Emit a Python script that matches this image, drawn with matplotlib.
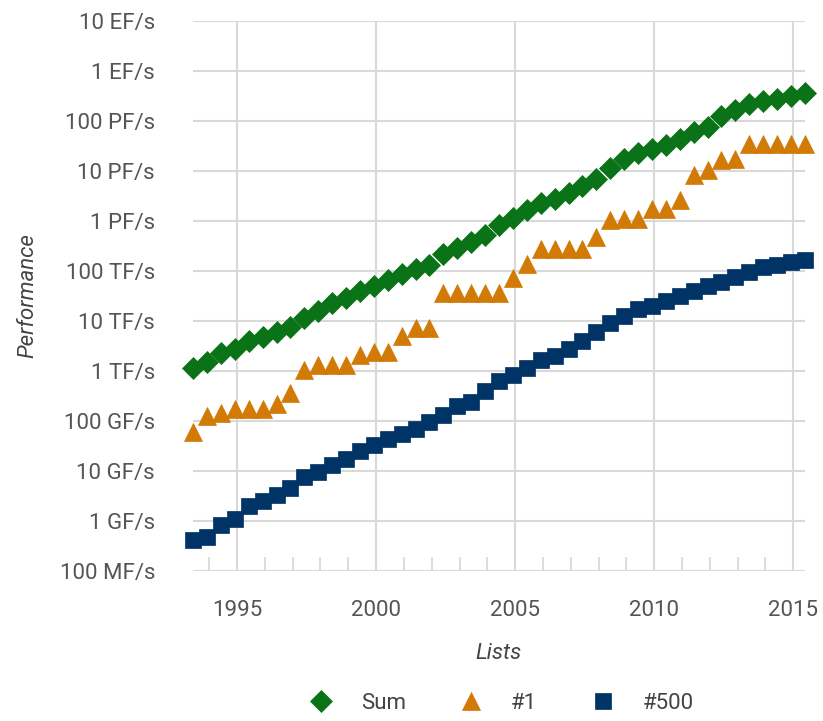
"""TOP500 performance development: Sum, #1 and #500 per list."""

import numpy as np
import matplotlib
matplotlib.use("Agg")
import matplotlib.pyplot as plt
from matplotlib.ticker import FixedLocator, MultipleLocator

plt.rcParams["font.family"] = ["Roboto", "DejaVu Sans"]

# one entry per list, June and November, 1993-06 .. 2015-06
lists = [f"{y}-{m}" for y in range(1993, 2016) for m in ("06", "11")][:-1]

# performance in GFlop/s
perf_sum = [1128, 1493, 2317, 2732, 3930, 4780, 5970, 7670, 11600, 15700,
            22700, 29100, 39500, 49700, 65500, 88100, 108000, 134000, 222000, 294000,
            375000, 529000, 813000, 1127000, 1690000, 2300000, 2790000, 3540000,
            4920000, 6970000, 11700000, 16950000, 22600000, 27950000, 32400000,
            44200000, 58900000, 74200000, 123000000, 162000000, 223000000,
            250000000, 274000000, 309000000, 361000000]
perf_n1 = [59.7, 124, 143.4, 170, 170, 170, 220.4, 368.2, 1068, 1338,
           1338, 1338, 2121, 2379, 2379, 4938, 7226, 7226, 35860, 35860,
           35860, 35860, 35860, 70720, 136800, 280600, 280600, 280600, 280600,
           478200, 1026000, 1105000, 1105000, 1759000, 1759000, 2566000,
           8162000, 10510000, 16320000, 17590000, 33860000, 33860000,
           33860000, 33860000, 33860000]
perf_n500 = [0.422, 0.472, 0.822, 1.114, 1.955, 2.489, 3.376, 4.62, 7.67, 9.51,
             13.39, 17.1, 24.7, 33.1, 43.8, 55.1, 67.8, 94.3, 134.3, 195.8,
             245.1, 403.4, 624, 850.6, 1166, 1646, 2026, 2737, 4005, 5929,
             9000, 12640, 17090, 20050, 24670, 31120, 39090, 50940, 60820,
             76500, 96620, 117800, 133700, 153400, 164700]

y_ticks = [0.1, 1, 10, 100, 1e3, 1e4, 1e5, 1e6, 1e7, 1e8, 1e9, 1e10]
y_labels = ["100 MF/s", "1 GF/s", "10 GF/s", "100 GF/s", "1 TF/s", "10 TF/s",
            "100 TF/s", "1 PF/s", "10 PF/s", "100 PF/s", "1 EF/s", "10 EF/s"]
x_ticks = [1995, 2000, 2005, 2010, 2015]

series = [
    ("Sum", perf_sum, "D", "#0b7317", 11.5),
    ("#1", perf_n1, "^", "#d17a06", 13),
    ("#500", perf_n500, "s", "#003366", 11.5),
]


def list_to_year(s):
    y, m = s.split("-")
    return int(y) + (0.42 if m == "06" else 0.92)


x = np.array([list_to_year(s) for s in lists])

fig = plt.figure(figsize=(8.23, 7.21), dpi=100)
ax = fig.add_axes([0.234, 0.208, 0.744, 0.763])

for name, vals, marker, color, ms in series:
    ax.plot(x, vals, linestyle="none", marker=marker, markersize=ms,
            color=color, markeredgecolor=color, markeredgewidth=0.5,
            label=name, clip_on=False, zorder=3)

ax.set_yscale("log")
ax.set_ylim(0.1, 1e10)
ax.set_xlim(1993.4, 2015.42)
ax.yaxis.set_major_locator(FixedLocator(y_ticks))
ax.yaxis.set_minor_locator(FixedLocator([]))
ax.set_yticklabels(y_labels)
ax.xaxis.set_major_locator(FixedLocator(x_ticks))
ax.xaxis.set_minor_locator(MultipleLocator(1))

ax.grid(True, which="major", color="#d9d9d9", linewidth=1.5)
ax.set_axisbelow(True)
for sp in ax.spines.values():
    sp.set_visible(False)

ax.tick_params(axis="y", length=0, pad=27, labelsize=16, labelcolor="#555555")
ax.tick_params(axis="x", which="major", length=0, pad=21, labelsize=16,
               labelcolor="#555555")
ax.tick_params(axis="x", which="minor", direction="in", length=10,
               width=1.3, color="#d9d9d9")

ax.set_xlabel("Lists", fontsize=16, style="italic", color="#444444", labelpad=16)
ax.set_ylabel("Performance", fontsize=16, style="italic", color="#444444",
              labelpad=15)

ax.legend(loc="upper center", bbox_to_anchor=(0.505, -0.185), ncol=3,
          frameon=False, fontsize=16, handlelength=1.0, handletextpad=1.3,
          columnspacing=2.45, labelcolor="#444444")

plt.savefig("out.png", dpi=100)
plt.close()
